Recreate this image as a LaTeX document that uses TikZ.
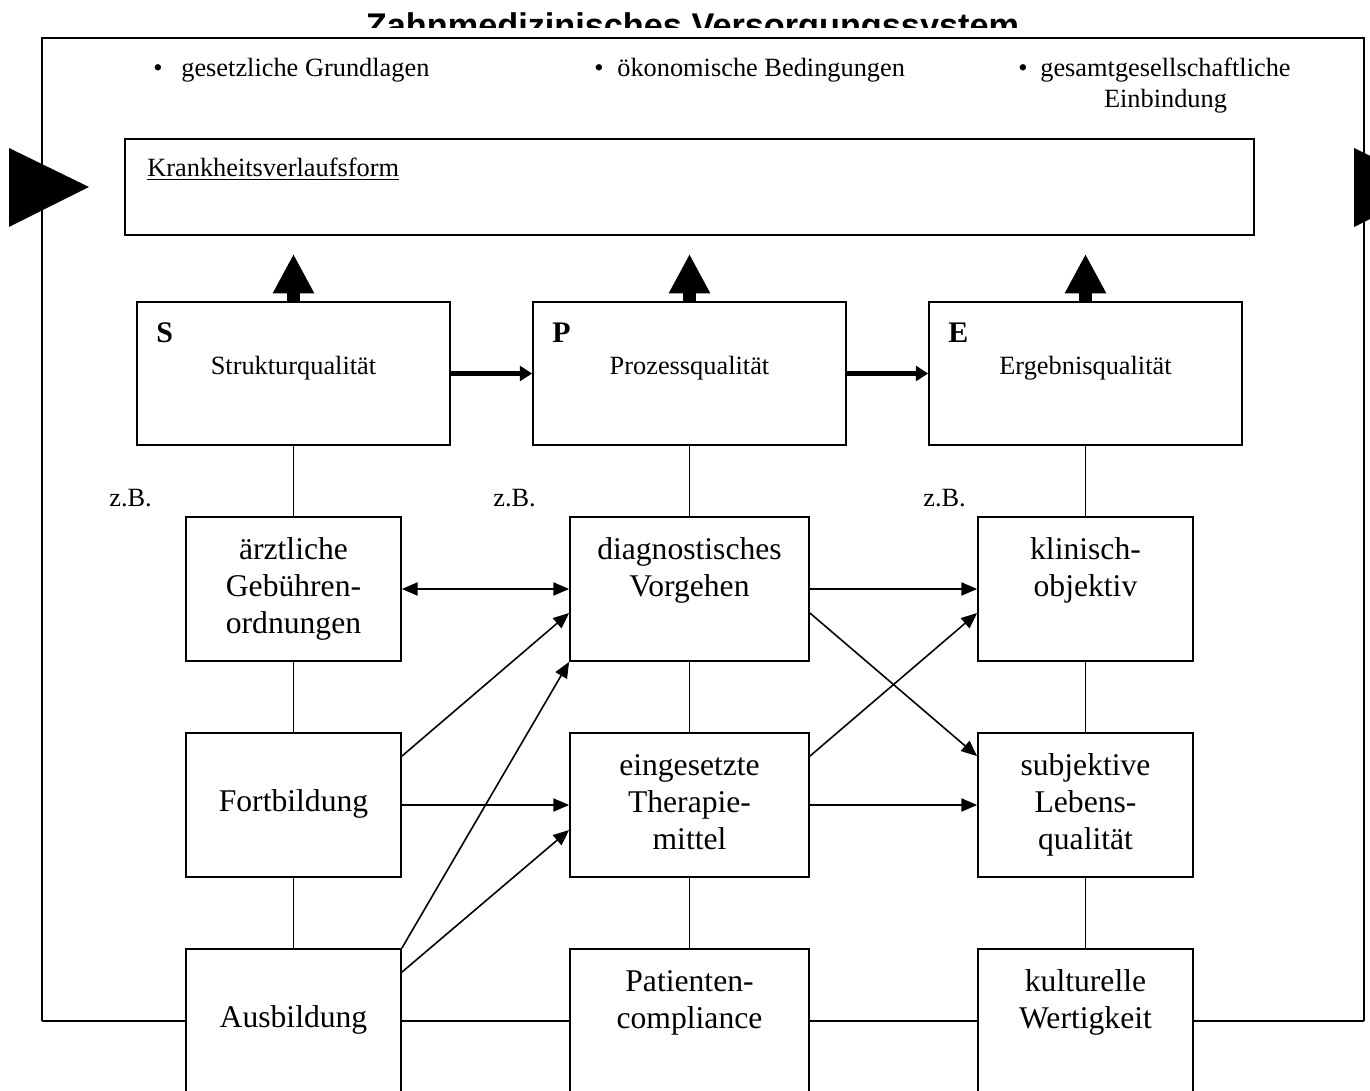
\documentclass[tikz,border=0pt]{standalone}
\usepackage{fontspec}
\setmainfont{Liberation Serif}
\newfontfamily\titlefont{Liberation Sans}
\usetikzlibrary{arrows.meta, positioning, calc}
\tikzset{
	% box styles
	frm/.style  ={draw=black, line width=1pt},
	qbox/.style ={rectangle, draw=black, line width=1pt, inner sep=0pt, minimum width=313*0.02cm, minimum height=143*0.02cm},
	sbox/.style ={rectangle, draw=black, line width=1pt, inner sep=0pt, minimum width=215*0.02cm, minimum height=144*0.02cm},
	wbox/.style ={sbox, minimum width=239*0.02cm},
	% text styles
	btxt/.style ={font=\fontsize{18}{21}\selectfont, align=center, anchor=north, inner sep=0pt},
	stxt/.style ={font=\fontsize{15}{17.5}\selectfont, inner sep=0pt},
	ltr/.style  ={font=\fontsize{17}{20}\selectfont\bfseries, anchor=base west, inner sep=0pt},
	% arrow styles
	sig/.style  ={-{Triangle[length=9pt, width=7.5pt]}, line width=0.9pt},
	dsig/.style ={{Triangle[length=9pt, width=7.5pt]}-{Triangle[length=9pt, width=7.5pt]}, line width=0.9pt},
	medsig/.style={-{Triangle[length=7pt, width=8.5pt]}, line width=3.4pt},
	bigsig/.style={-{Triangle[length=22.5pt, width=22pt]}, line width=7.4pt},
}
\begin{document}
\begin{tikzpicture}[x=0.02cm, y=-0.02cm]
	\useasboundingbox (0,0) rectangle (1370,1091);
	\clip (0,0) rectangle (1370,1091);
	% title, cut by the page edge
	\begin{scope}
		\clip (0,0) rectangle (1370,28);
		\node[font=\titlefont\fontsize{19.5}{22}\selectfont\bfseries, anchor=base, inner sep=0pt] (title) at (692.5,38) {Zahnmedizinisches Versorgungssystem};
	\end{scope}
	% outer frame
	\coordinate (ftl) at (42,38);
	\coordinate (ftr) at (1364,38);
	\coordinate (fbl) at (42,1021);
	\coordinate (fbr) at (1364,1021);
	\draw[frm] (fbl) -- (ftl) -- (ftr) -- (fbr);
	% side triangles
	\fill (9,148) -- (9,227) -- (89,187) -- cycle;
	\fill (1354,148) -- (1354,227) -- (1434,187) -- cycle;
	% framework conditions
	\node[stxt, anchor=base] (b1) at (158,77) {\textbullet};
	\node[stxt, anchor=base west] (g1) at (181,77) {gesetzliche Grundlagen};
	\node[stxt, anchor=base] (b2) at (599,77) {\textbullet};
	\node[stxt, anchor=base west] (g2) at (617,77) {ökonomische Bedingungen};
	\node[stxt, anchor=base] (b3) at (1023,77) {\textbullet};
	\node[stxt, anchor=base west] (g3) at (1040,77) {gesamtgesellschaftliche};
	\node[stxt, anchor=base] (g3b) at ($(g3.base)+(0,31)$) {Einbindung};
	% course of disease
	\node[frm, rectangle, inner sep=0pt, minimum width=1129*0.02cm, minimum height=96*0.02cm] (kv) at (689.5,187) {};
	\node[stxt, anchor=base west] (kvlab) at (147,177) {\underline{Krankheitsverlaufsform}};
	% S, P, E
	\node[qbox] (S) at (293.5,373.5) {};
	\node[qbox] (P) at (689.5,373.5) {};
	\node[qbox] (E) at (1085.5,373.5) {};
	\node[ltr] at ($(S.north west)+(20,41)$) {S};
	\node[ltr] at ($(P.north west)+(20,41)$) {P};
	\node[ltr] at ($(E.north west)+(20,41)$) {E};
	\node[stxt, anchor=base] (Slab) at ($(S.north)+(0,73)$) {Strukturqualität};
	\node[stxt, anchor=base] (Plab) at ($(P.north)+(0,73)$) {Prozessqualität};
	\node[stxt, anchor=base] (Elab) at ($(E.north)+(0,73)$) {Ergebnisqualität};
	\foreach \q in {S,P,E}
		\draw[bigsig] (\q.north) -- ($(kv.south -| \q.north)+(0,18)$);
	\draw[medsig] (S.east) -- (P.west);
	\draw[medsig] (P.east) -- (E.west);
	% examples
	\node[stxt, anchor=base west] (zb1) at (109,506) {z.B.};
	\node[stxt, anchor=base west] (zb2) at (493,506) {z.B.};
	\node[stxt, anchor=base west] (zb3) at (923,506) {z.B.};
	\node[sbox] (aerzt) at (293.5,589) {};
	\node[sbox] (fort)  at (293.5,805) {};
	\node[sbox] (ausb)  at (293.5,1021) {};
	\node[wbox] (diag)  at (689.5,589) {};
	\node[wbox] (eing)  at (689.5,805) {};
	\node[wbox] (pat)   at (689.5,1021) {};
	\node[sbox] (klin)  at (1085.5,589) {};
	\node[sbox] (subj)  at (1085.5,805) {};
	\node[sbox] (kult)  at (1085.5,1021) {};
	\node[btxt] at ($(aerzt.north)+(0,17)$) {\strut ärztliche\\Gebühren-\\ordnungen};
	\node[btxt] at ($(fort.north)+(0,53)$) {\strut Fortbildung};
	\node[btxt] at ($(ausb.north)+(0,53)$) {\strut Ausbildung};
	\node[btxt] at ($(diag.north)+(0,17)$) {\strut diagnostisches\\Vorgehen};
	\node[btxt] at ($(eing.north)+(0,17)$) {\strut eingesetzte\\Therapie-\\mittel};
	\node[btxt] at ($(pat.north)+(0,17)$) {\strut Patienten-\\compliance};
	\node[btxt] at ($(klin.north)+(0,17)$) {\strut klinisch-\\objektiv};
	\node[btxt] at ($(subj.north)+(0,17)$) {\strut subjektive\\Lebens-\\qualität};
	\node[btxt] at ($(kult.north)+(0,17)$) {\strut kulturelle\\Wertigkeit};
	% column links
	\foreach \a/\b in {S/aerzt, aerzt/fort, fort/ausb, P/diag, diag/eing, eing/pat, E/klin, klin/subj, subj/kult}
		\draw[frm] (\a.south) -- (\b.north);
	\draw[frm] (fbl) -- (ausb.west) (ausb.east) -- (pat.west) (pat.east) -- (kult.west) (kult.east) -- (fbr);
	% influences
	\draw[dsig] (aerzt.east) -- (diag.west);
	\draw[sig] ($(fort.north east)+(0,24)$) -- ($(diag.west)+(0,24)$);
	\draw[sig] (fort.east) -- (eing.west);
	\draw[sig] (ausb.north east) -- (diag.south west);
	\draw[sig] ($(ausb.north east)+(0,24)$) -- ($(eing.west)+(0,25)$);
	\draw[sig] (diag.east) -- (klin.west);
	\draw[sig] ($(diag.east)+(0,24)$) -- ($(subj.north west)+(0,24)$);
	\draw[sig] ($(eing.north east)+(0,24)$) -- ($(klin.west)+(0,24)$);
	\draw[sig] (eing.east) -- (subj.west);
\end{tikzpicture}
\end{document}
